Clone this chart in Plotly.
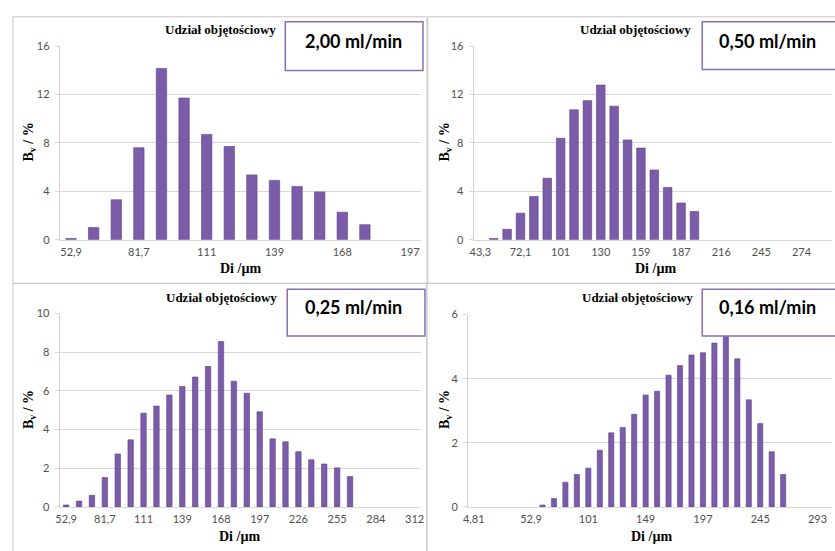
import plotly.graph_objects as go

W, H = 835, 551

# ---------------- data ----------------
diameters = ["4,81", "14,4", "24,0", "33,7", "43,3", "52,9", "62,5", "72,1", "81,7",
             "91,3", "101", "111", "120", "130", "139", "149", "159", "168", "178",
             "187", "197", "207", "216", "226", "235", "245", "255", "264", "274",
             "284", "293", "303", "312"]

flow_labels = ["2,00 ml/min", "0,50 ml/min", "0,25 ml/min", "0,16 ml/min"]

# volume fraction Bv [%]
bv_200 = [0.1, 1.0, 3.3, 7.6, 14.15, 11.7, 8.7, 7.7, 5.35, 4.9, 4.4, 3.95, 2.27, 1.24]
bv_050 = [0.1, 0.86, 2.19, 3.57, 5.08, 8.38, 10.73, 11.49, 12.78, 11.03, 8.24, 7.57,
          5.76, 4.32, 3.03, 2.32]
bv_025 = [0.1, 0.3, 0.6, 1.52, 2.74, 3.47, 4.85, 5.22, 5.79, 6.23, 6.72, 7.27, 8.55,
          6.5, 5.88, 4.92, 3.52, 3.37, 2.86, 2.44, 2.22, 2.02, 1.57]
bv_016 = [0.06, 0.26, 0.77, 1.01, 1.21, 1.77, 2.31, 2.48, 2.89, 3.49, 3.61, 4.11,
          4.41, 4.74, 4.81, 5.11, 5.5, 4.62, 3.34, 2.6, 1.72, 1.01]

# first category index of each series, axis category spans, tick steps, y max / dtick
series = [bv_200, bv_050, bv_025, bv_016]
series_start = [5, 5, 5, 6]
axis_span = [(5, 21), (4, 32), (5, 33), (0, 32)]
tick_step = [3, 3, 3, 5]
y_max = [16, 16, 10, 6]
y_dtick = [4, 4, 2, 2]

# ---------------- layout geometry (pixels) ----------------
plot_px = [  # x0, x1, ytop, ybottom, category pitch
    (55.3, 420.4, 40, 238.3, 22.82),
    (473.2, 835, 40, 238.3, 13.51),
    (55.2, 420, 314, 512, 13.03),
    (467.5, 835, 315, 512, 11.57),
]
bar_width = [0.46, 0.64, 0.42, 0.45]
panel_px = [(8, 426, 10, 283), (427, 845, 10, 283), (8, 426, 283, 560), (426, 845, 283, 560)]
box_px = [(283, 422, 15, 65), (704, 850, 15, 64), (285, 424, 289, 337), (704, 850, 289, 337)]
title_pos = [(218, 23), (637, 23), (219, 298), (639, 298)]
ytitle_pos = [(25, 138), (445, 138), (25, 412), (445, 412)]
xtitle_pos = [(238, 268), (657, 268), (237, 542), (653, 542)]
label_pos = [(352, 35), (770, 35), (352, 307), (770, 307)]


def px(x):
    return x / W


def py(y):
    return 1 - y / H


fig = go.Figure()
shapes, annotations = [], []
tick_font = dict(family="Lato, Open Sans, sans-serif", size=11, color="#505050")

for i in range(4):
    n = "" if i == 0 else str(i + 1)
    s = series[i]
    st = series_start[i]
    a0, a1 = axis_span[i]
    cats = diameters[a0:a1]
    x0, x1, yt, yb, pitch = plot_px[i]
    fig.add_trace(go.Bar(
        x=diameters[st:st + len(s)], y=s, width=bar_width[i],
        marker=dict(color="#7B5CA8", line=dict(color="#5C3F88", width=0.6)),
        xaxis="x" + n, yaxis="y" + n, showlegend=False, hoverinfo="x+y",
    ))
    ncat_vis = (x1 - x0) / pitch
    fig.update_layout(**{
        "xaxis" + n: dict(
            domain=[px(x0), px(x1)], anchor="y" + n, type="category",
            categoryorder="array", categoryarray=cats,
            range=[-0.5, -0.5 + ncat_vis],
            tickvals=cats[::tick_step[i]], ticktext=cats[::tick_step[i]],
            tickangle=0, ticks="", showgrid=False, showline=True,
            linecolor="#d9d9d9", linewidth=1, tickfont=tick_font,
            ticklabelstandoff=2, fixedrange=True,
        ),
        "yaxis" + n: dict(
            domain=[py(yb), py(yt)], anchor="x" + n, range=[0, y_max[i]],
            dtick=y_dtick[i], tick0=0, showgrid=True, gridcolor="#d9d9d9",
            gridwidth=1, showline=True, linecolor="#d0d0d0", linewidth=1,
            ticks="outside", ticklen=4, tickcolor="#d9d9d9", tickfont=tick_font,
            zeroline=False, ticklabelstandoff=3, fixedrange=True,
        ),
    })
    # panel frame
    p0, p1, q0, q1 = panel_px[i]
    shapes.append(dict(type="rect", xref="paper", yref="paper", x0=px(p0), x1=px(p1),
                       y0=py(q1), y1=py(q0), line=dict(color="#c8c8c8", width=1),
                       layer="below"))
    # flow rate box
    b0, b1, c0, c1 = box_px[i]
    shapes.append(dict(type="rect", xref="paper", yref="paper", x0=px(b0), x1=px(b1),
                       y0=py(c1), y1=py(c0), line=dict(color="#8A6FB0", width=1.5),
                       fillcolor="white", layer="above"))
    lx, ly = label_pos[i]
    annotations.append(dict(text="<b>" + flow_labels[i] + "</b>", x=px(lx), y=py(ly),
                            xref="paper", yref="paper", showarrow=False,
                            xanchor="center", yanchor="middle",
                            font=dict(family="Lato, Open Sans, sans-serif", size=18,
                                      color="black")))
    tx, ty = title_pos[i]
    annotations.append(dict(text="<b>Udział objętościowy</b>", x=px(tx), y=py(ty),
                            xref="paper", yref="paper", showarrow=False,
                            xanchor="center", yanchor="middle",
                            font=dict(family="Liberation Serif, serif", size=13,
                                      color="black")))
    ax, ay = ytitle_pos[i]
    annotations.append(dict(text="<b>B<sub>v</sub> / %</b>", x=px(ax), y=py(ay),
                            xref="paper", yref="paper", showarrow=False, textangle=-90,
                            xanchor="center", yanchor="middle",
                            font=dict(family="Liberation Serif, serif", size=14,
                                      color="black")))
    dx, dy = xtitle_pos[i]
    annotations.append(dict(text="<b>Di /µm</b>", x=px(dx), y=py(dy),
                            xref="paper", yref="paper", showarrow=False,
                            xanchor="center", yanchor="middle",
                            font=dict(family="Liberation Serif, serif", size=14,
                                      color="black")))

fig.update_layout(
    width=W, height=H, margin=dict(l=0, r=0, t=0, b=0),
    paper_bgcolor="white", plot_bgcolor="white",
    shapes=shapes, annotations=annotations, showlegend=False,
)

fig.write_html("out.html", config={"displayModeBar": False},
               post_script="document.body.style.margin='0';"
                           "document.body.style.overflow='hidden';")
